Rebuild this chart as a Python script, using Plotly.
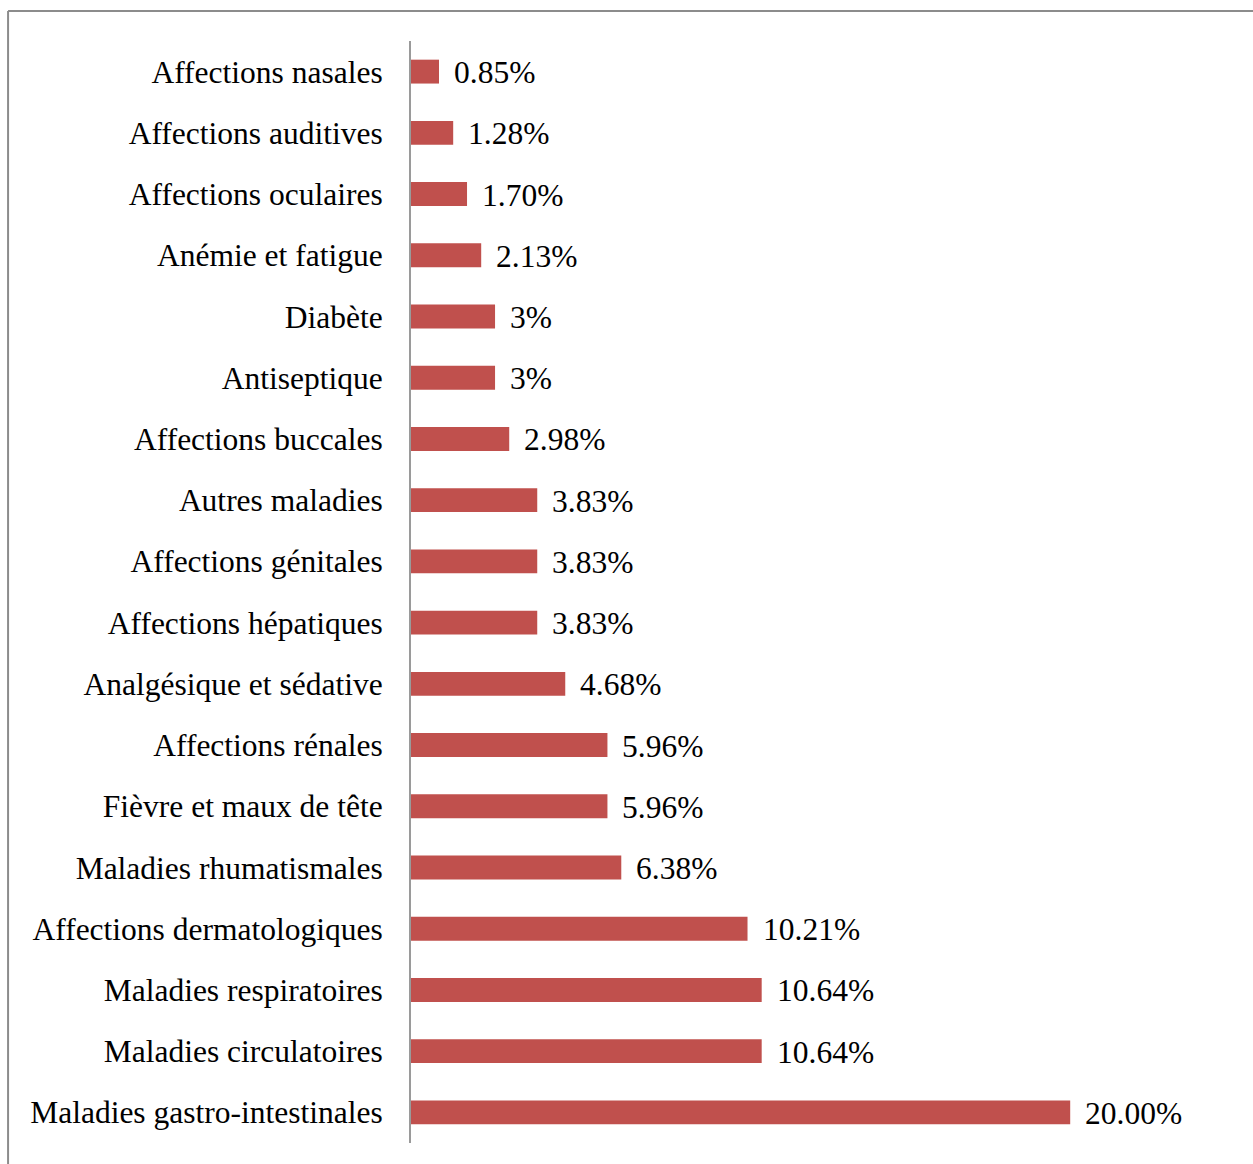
import plotly.graph_objects as go

categories = [
    "Affections nasales", "Affections auditives", "Affections oculaires",
    "Anémie et fatigue", "Diabète", "Antiseptique", "Affections buccales",
    "Autres maladies", "Affections génitales", "Affections hépatiques",
    "Analgésique et sédative", "Affections rénales", "Fièvre et maux de tête",
    "Maladies rhumatismales", "Affections dermatologiques",
    "Maladies respiratoires", "Maladies circulatoires",
    "Maladies gastro-intestinales",
]
values = [0.85, 1.28, 1.70, 2.13, 2.55, 2.55, 2.98, 3.83, 3.83, 3.83,
          4.68, 5.96, 5.96, 6.38, 10.21, 10.64, 10.64, 20.00]
value_labels = ["0.85%", "1.28%", "1.70%", "2.13%", "3%", "3%", "2.98%",
                "3.83%", "3.83%", "3.83%", "4.68%", "5.96%", "5.96%",
                "6.38%", "10.21%", "10.64%", "10.64%", "20.00%"]

FONT = "Liberation Serif"
FS = 31.5

fig = go.Figure(go.Bar(
    x=values, y=categories, orientation="h",
    marker=dict(color="#C0504D", line=dict(width=0)),
    hoverinfo="skip",
))

for v, c, t in zip(values, categories, value_labels):
    fig.add_annotation(x=v, y=c, text=t, xanchor="left", yanchor="middle",
                       xshift=13, yshift=-1, showarrow=False,
                       font=dict(family=FONT, size=FS, color="black"))

# outer frame
fig.add_shape(type="line", xref="paper", yref="paper", x0=-0.489, x1=1.1,
              y0=1.0272, y1=1.0272, line=dict(color="#8C8C8C", width=2))
fig.add_shape(type="line", xref="paper", yref="paper", x0=-0.489, x1=-0.489,
              y0=1.0272, y1=-0.1, line=dict(color="#8C8C8C", width=2))

fig.update_layout(
    width=1253, height=1164,
    margin=dict(l=411, r=18, t=41, b=21),
    paper_bgcolor="white", plot_bgcolor="white",
    bargap=0.61, showlegend=False,
    font=dict(family=FONT, size=FS, color="black"),
    xaxis=dict(range=[0, 25], showgrid=False, zeroline=False,
               showticklabels=False, showline=False, ticks=""),
    yaxis=dict(autorange="reversed", showgrid=False, zeroline=False,
               showline=True, linecolor="#9A9A9A", linewidth=2,
               ticks="", ticklabelstandoff=20,
               tickfont=dict(family=FONT, size=FS, color="black")),
)

fig.write_html("out.html")
